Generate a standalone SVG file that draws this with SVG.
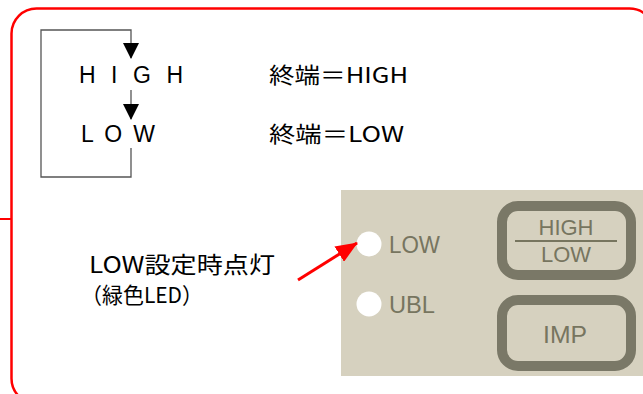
<svg xmlns="http://www.w3.org/2000/svg" width="643" height="394" viewBox="0 0 643 394">
<style>
.t{font-family:"Liberation Sans","Noto Sans CJK JP",sans-serif;fill:#000}
.j{font-family:"Noto Sans CJK JP","Liberation Sans",sans-serif;fill:#000}
.p{font-family:"Liberation Sans","DejaVu Sans",sans-serif;fill:#77755f}
.g{fill:none;stroke:#555;stroke-width:1.3}
.btn{fill:none;stroke:#7a7867;stroke-width:10}
</style>
<defs>
<marker id="ah" markerWidth="16" markerHeight="16" viewBox="0 0 16 16" refX="15" refY="8" orient="auto" markerUnits="userSpaceOnUse">
<path d="M0,0 L16,8 L0,16 Z" fill="#000"/>
</marker>
<marker id="rh" markerWidth="22" markerHeight="18" viewBox="0 0 22 18" refX="21" refY="9" orient="auto" markerUnits="userSpaceOnUse">
<path d="M0,0 L22,9 L0,18 Z" fill="#f00"/>
</marker>
</defs>
<g id="frame">
<rect x="11.5" y="8.5" width="643" height="395" rx="25" fill="none" stroke="#f00" stroke-width="2.5"/>
<line x1="0" y1="219" x2="11" y2="219" stroke="#f00" stroke-width="2"/>
</g>
<g id="panel">
<rect x="341" y="190" width="302" height="186" fill="#d6d1bf"/>
</g>
<g id="led-low">
<circle cx="369" cy="244" r="12.5" fill="#fff"/>
<text class="p" x="389" y="253" font-size="23" textLength="51" lengthAdjust="spacingAndGlyphs">LOW</text>
</g>
<g id="led-ubl">
<circle cx="369" cy="304" r="12.5" fill="#fff"/>
<text class="p" x="389" y="313" font-size="23" textLength="46" lengthAdjust="spacingAndGlyphs">UBL</text>
</g>
<g id="btn-highlow">
<rect class="btn" x="502" y="206" width="129" height="69" rx="16"/>
<text class="p" x="566" y="235" font-size="22" text-anchor="middle" textLength="55" lengthAdjust="spacingAndGlyphs">HIGH</text>
<line x1="515" y1="241" x2="617" y2="241" stroke="#77755f" stroke-width="2"/>
<text class="p" x="566" y="262" font-size="22" text-anchor="middle" textLength="50" lengthAdjust="spacingAndGlyphs">LOW</text>
</g>
<g id="btn-imp">
<rect class="btn" x="502" y="300" width="129" height="66" rx="16"/>
<text class="p" x="565" y="343" font-size="23" text-anchor="middle" textLength="44" lengthAdjust="spacingAndGlyphs">IMP</text>
</g>
<g id="state-high">
<text class="t" x="79" y="83" font-size="23" textLength="104" lengthAdjust="spacing">H I G H</text>
</g>
<g id="state-low">
<text class="t" x="81" y="142" font-size="23" textLength="74" lengthAdjust="spacing">L O W</text>
</g>
<g id="label-high">
<text class="j" x="269" y="83" font-size="22" textLength="139" lengthAdjust="spacingAndGlyphs">終端＝HIGH</text>
</g>
<g id="label-low">
<text class="j" x="269" y="142" font-size="22" textLength="135" lengthAdjust="spacingAndGlyphs">終端＝LOW</text>
</g>
<g id="callout">
<text class="j" x="89" y="273" font-size="23" textLength="186" lengthAdjust="spacingAndGlyphs">LOW設定時点灯</text>
<text class="j" x="81" y="303" font-size="22" textLength="122" lengthAdjust="spacingAndGlyphs">（緑色LED）</text>
</g>
<g id="connectors">
<path class="g" d="M131,148 V177 H41 V30 H131 V58" marker-end="url(#ah)"/>
<path class="g" d="M131,90 V119" marker-end="url(#ah)"/>
<line x1="298" y1="280" x2="357" y2="243" stroke="#f00" stroke-width="3" marker-end="url(#rh)"/>
</g>
</svg>
